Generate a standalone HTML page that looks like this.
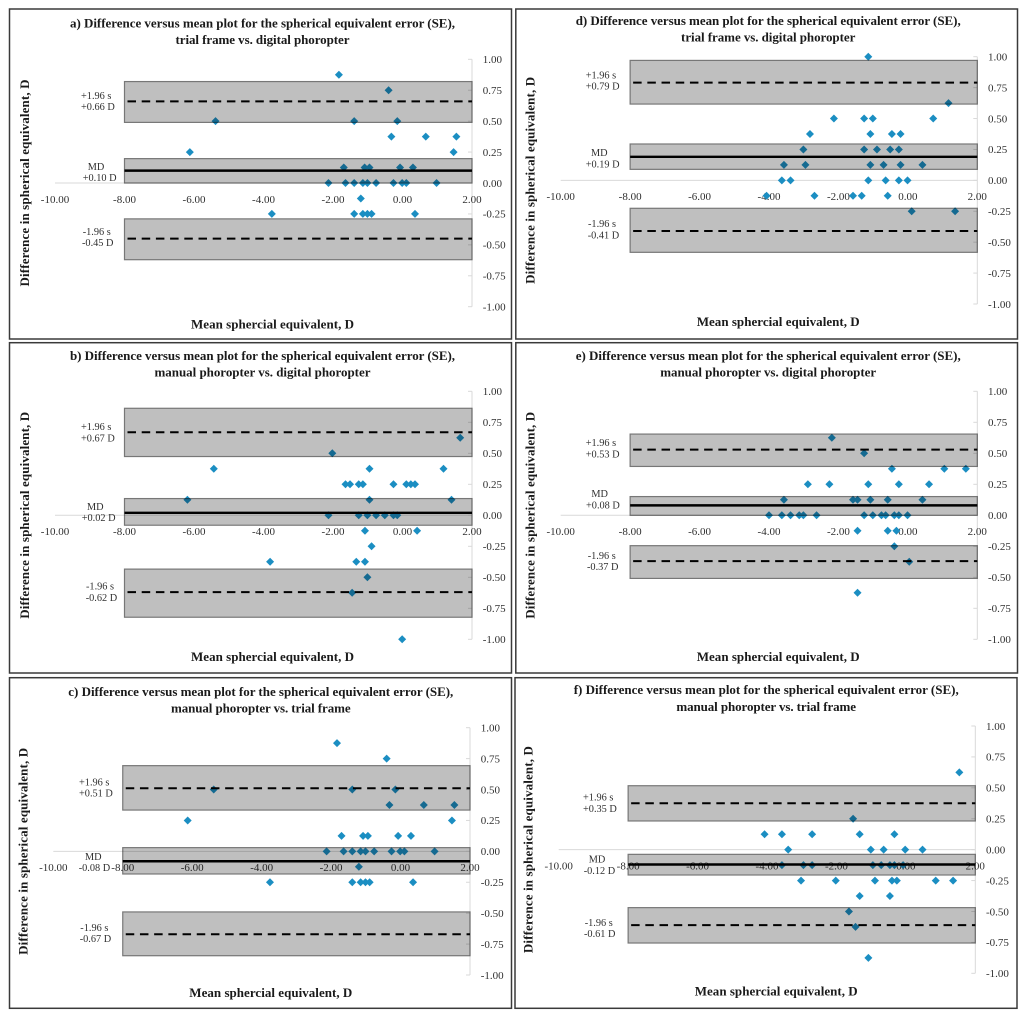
<!DOCTYPE html>
<html lang="en">
<head>
<meta charset="utf-8">
<title>Difference versus mean plots</title>
<style>
  html,body{margin:0;padding:0;background:#fff;}
  body{width:1024px;height:1015px;overflow:hidden;}
  svg{display:block;font-family:"Liberation Serif",serif;filter:blur(0.3px);}
</style>
</head>
<body>
<svg id="figure" xmlns="http://www.w3.org/2000/svg" width="1024" height="1015" viewBox="0 0 1024 1015"></svg>
<script>
// Shared axis tick values
const xTicks = [-10, -8, -6, -4, -2, 0, 2];
const yTicks = [1, 0.75, 0.5, 0.25, 0, -0.25, -0.5, -0.75, -1];

// Panel a
const aMean = [-1.83,-0.40,-5.38,-1.39,-0.15,-0.32,0.67,1.55,-6.12,1.47,-1.69,-1.09,-0.95,-0.07,0.30,-2.13,-1.64,-1.39,-1.14,-1.01,-0.76,-0.26,-0.01,0.11,0.98,-1.20,-3.76,-1.39,-1.14,-1.01,-0.89,0.36];
const aDiff = [0.875,0.75,0.5,0.5,0.5,0.375,0.375,0.375,0.25,0.25,0.125,0.125,0.125,0.125,0.125,0,0,0,0,0,0,0,0,0,0,-0.125,-0.25,-0.25,-0.25,-0.25,-0.25,-0.25];
const aLines = [0.66, 0.10, -0.45];
const aBands = [[0.82,0.49],[0.197,0],[-0.29,-0.62]];
const aLabels = ["+0.66 D", "+0.10 D", "-0.45 D"];

// Panel b
const bMean = [1.66,-2.02,-5.43,-0.95,1.18,-1.64,-1.51,-1.26,-1.14,-0.26,0.11,0.24,0.36,-6.19,-0.95,1.41,-2.13,-1.26,-1.01,-0.76,-0.51,-0.26,-0.15,-1.08,0.42,-0.89,-3.81,-1.33,-1.08,-1.01,-1.45,-0.01];
const bDiff = [0.625,0.5,0.375,0.375,0.375,0.25,0.25,0.25,0.25,0.25,0.25,0.25,0.25,0.125,0.125,0.125,0,0,0,0,0,0,0,-0.125,-0.125,-0.25,-0.375,-0.375,-0.375,-0.5,-0.625,-1];
const bLines = [0.67, 0.02, -0.62];
const bBands = [[0.863,0.474],[0.135,-0.08],[-0.434,-0.822]];
const bLabels = ["+0.67 D", "+0.02 D", "-0.62 D"];

// Panel c
const cMean = [-1.83,-0.40,-5.38,-1.39,-0.15,-0.32,0.67,1.55,-6.13,1.48,-1.70,-1.08,-0.94,-0.07,0.30,-2.13,-1.64,-1.39,-1.15,-1.01,-0.76,-0.26,-0.01,0.11,0.98,-1.20,-3.76,-1.39,-1.15,-1.01,-0.89,0.36];
const cDiff = [0.875,0.75,0.5,0.5,0.5,0.375,0.375,0.375,0.25,0.25,0.125,0.125,0.125,0.125,0.125,0,0,0,0,0,0,0,0,0,0,-0.125,-0.25,-0.25,-0.25,-0.25,-0.25,-0.25];
const cLines = [0.51, -0.08, -0.67];
const cBands = [[0.693,0.334],[0.03,-0.183],[-0.49,-0.844]];
const cLabels = ["+0.51 D", "-0.08 D", "-0.67 D"];

// Panel d
const dMean = [-1.14,1.17,-2.13,-1.26,-1.01,0.73,-2.82,-1.08,-0.46,-0.21,-3.01,-1.26,-0.89,-0.51,-0.26,-3.57,-2.95,-1.08,-0.70,-0.21,0.42,-3.63,-3.38,-1.14,-0.64,-0.26,-0.01,-4.07,-2.69,-1.58,-1.33,-0.58,0.11,1.36];
const dDiff = [1,0.625,0.5,0.5,0.5,0.5,0.375,0.375,0.375,0.375,0.25,0.25,0.25,0.25,0.25,0.125,0.125,0.125,0.125,0.125,0.125,0,0,0,0,0,0,-0.125,-0.125,-0.125,-0.125,-0.125,-0.25,-0.25];
const dLines = [0.79, 0.19, -0.41];
const dBands = [[0.97,0.617],[0.294,0.089],[-0.226,-0.582]];
const dLabels = ["+0.79 D", "+0.19 D", "-0.41 D"];

// Panel e
const eMean = [-2.19,-1.26,-0.46,1.05,1.67,-2.88,-2.26,-1.14,-0.26,0.61,-3.57,-1.58,-1.45,-1.08,-0.58,0.42,-4.0,-3.63,-3.38,-3.13,-3.01,-2.63,-1.26,-1.01,-0.76,-0.64,-0.39,-0.26,-0.01,-1.45,-0.58,-0.33,-0.39,0.04,-1.45];
const eDiff = [0.625,0.5,0.375,0.375,0.375,0.25,0.25,0.25,0.25,0.25,0.125,0.125,0.125,0.125,0.125,0.125,0,0,0,0,0,0,0,0,0,0,0,0,0,-0.125,-0.125,-0.125,-0.25,-0.375,-0.625];
const eLines = [0.53, 0.08, -0.37];
const eBands = [[0.655,0.394],[0.151,0],[-0.245,-0.509]];
const eLabels = ["+0.53 D", "+0.08 D", "-0.37 D"];

// Panel f
const fMean = [1.54,-1.52,-4.07,-3.57,-2.70,-1.33,-0.33,-3.39,-1.01,-0.64,-0.02,0.48,-3.57,-2.95,-2.70,-0.95,-0.71,-0.46,-0.33,-0.08,-3.02,-2.02,-0.89,-0.40,-0.26,0.86,1.36,-1.33,-0.46,-1.64,-1.45,-1.08];
const fDiff = [0.625,0.25,0.125,0.125,0.125,0.125,0.125,0,0,0,0,0,-0.125,-0.125,-0.125,-0.125,-0.125,-0.125,-0.125,-0.125,-0.25,-0.25,-0.25,-0.25,-0.25,-0.25,-0.25,-0.375,-0.375,-0.5,-0.625,-0.875];
const fLines = [0.375, -0.12, -0.61];
const fBands = [[0.517,0.232],[-0.038,-0.205],[-0.469,-0.755]];
const fLabels = ["+0.35 D", "-0.12 D", "-0.61 D"];

const NS = "http://www.w3.org/2000/svg";
const root = document.getElementById("figure");
const X_MIN = -10, X_MAX = 2, Y_MAX = 1, Y_MIN = -1, BAND_LEFT = -8;
const INK = "#303030";

function make(tag, attrs, parent, text) {
  const node = document.createElementNS(NS, tag);
  for (const k in attrs) node.setAttribute(k, attrs[k]);
  if (text !== undefined) node.textContent = text;
  parent.appendChild(node);
  return node;
}

function drawPanel(p) {
  const panel = make("g", {}, root);
  
  

  const sx = v => p.left + (v - X_MIN) * (p.right - p.left) / (X_MAX - X_MIN);
  const sy = v => p.top + (Y_MAX - v) * (p.bottom - p.top) / (Y_MAX - Y_MIN);

  const frame = make("rect", {x:p.frame[0], y:p.frame[1], width:p.frame[2]-p.frame[0], height:p.frame[3]-p.frame[1], fill:"#fff", stroke:"#3a3a3a", "stroke-width":1.5}, panel);
  
  

  const t1 = make("text", {x:p.left+207.5, y:sy(0)-159.7+4.2, "text-anchor":"middle", "font-size":13, "font-weight":"bold", fill:"#1a1a1a", textLength:385}, panel, p.id + ") Difference versus mean plot for the spherical equivalent error (SE),");
  
  

  const t2 = make("text", {x:p.left+207.5, y:sy(0)-143+4.2, "text-anchor":"middle", "font-size":13, "font-weight":"bold", fill:"#1a1a1a", textLength:p.subLen}, panel, p.sub);
  
  

  const yt = make("text", {transform:"translate(" + (p.left-30+4) + "," + sy(0) + ") rotate(-90)", "text-anchor":"middle", "font-size":13, "font-weight":"bold", fill:"#1a1a1a", textLength:207}, panel, "Difference in spherical equivalent, D");
  
  

  const xt = make("text", {x:p.left+217.5, y:sy(0)+141.4+4.2, "text-anchor":"middle", "font-size":13, "font-weight":"bold", fill:"#1a1a1a", textLength:163}, panel, "Mean sphercial equivalent, D");
  
  

  // Axes
  const xAxis = make("line", {x1:sx(X_MIN), x2:sx(X_MAX), y1:sy(0), y2:sy(0), stroke:"#d9d9d9", "stroke-width":1}, panel);
  
  

  const yAxis = make("line", {x1:sx(X_MAX), x2:sx(X_MAX), y1:sy(Y_MAX), y2:sy(Y_MIN), stroke:"#d9d9d9", "stroke-width":1}, panel);
  
  

  xTicks.forEach(v => {
    const lab = make("text", {x:sx(v), y:sy(0)+16+3.8, "text-anchor":"middle", "font-size":11, fill:INK}, panel, v.toFixed(2));
    
    
  });

  yTicks.forEach(v => {
    const tick = make("line", {x1:sx(X_MAX)-4, x2:sx(X_MAX), y1:sy(v), y2:sy(v), stroke:"#d9d9d9", "stroke-width":1}, panel);
    
    
    const lab = make("text", {x:sx(X_MAX)+10.7, y:sy(v)+3.8, "font-size":11, fill:INK}, panel, v.toFixed(2));
    
    
  });

  // Annotation labels
  const L = p.labelPos;
  const heads = ["+1.96 s", "MD", "-1.96 s"];
  heads.forEach((h, i) => {
    const a = make("text", {x:L[i][0], y:L[i][1]+3.5, "font-size":10.3, fill:INK, "text-anchor": i === 1 ? "middle" : "start"}, panel, h);
    
    
    const b = make("text", {x:L[i][2], y:L[i][3]+3.5, "font-size":10.3, fill:INK}, panel, p.labels[i]);
    
    
  });

  // Points
  p.mean.forEach((m, i) => {
    const cx = sx(m), cy = sy(p.diff[i]);
    const pt = make("polygon", {points:[[cx,cy-4],[cx+4,cy],[cx,cy+4],[cx-4,cy]].join(" "), fill:"#1b8ec2"}, panel);
    
    
  });

  // Confidence bands (multiplied over marks, as in the reference)
  p.bands.forEach(b => {
    const r = make("rect", {x:sx(BAND_LEFT), y:sy(b[0]), width:sx(X_MAX)-sx(BAND_LEFT), height:sy(b[1])-sy(b[0]), fill:"#bfbfbf", stroke:"#777", "stroke-width":1.2, style:"mix-blend-mode:multiply"}, panel);
    
    
  });

  // Mean and limit lines
  p.lines.forEach((v, i) => {
    const attrs = {x1:sx(BAND_LEFT)+ (i === 1 ? 0 : 3), x2:sx(X_MAX), y1:sy(v), y2:sy(v), stroke:"#000", "stroke-width": i === 1 ? 2.4 : 2};
    if (i !== 1) attrs["stroke-dasharray"] = "8.5 5.7";
    const ln = make("line", attrs, panel);
    
    
  });
}

const panels = [
  {id:"a", left:55, right:472, top:59.3, bottom:306.7, frame:[9.5,9,511.5,339], sub:"trial frame vs. digital phoropter", subLen:174, mean:aMean, diff:aDiff, lines:aLines, bands:aBands, labels:aLabels,
   labelPos:[[81,95.7,81,106.7],[96,166.3,82.7,177.7],[82.7,231.3,82,242.3]]},
  {id:"b", left:55, right:472, top:391.3, bottom:639.3, frame:[9.5,342.7,511.5,673], sub:"manual phoropter vs. digital phoropter", subLen:216, mean:bMean, diff:bDiff, lines:bLines, bands:bBands, labels:bLabels,
   labelPos:[[81,426.7,81,438],[95.3,506.3,81.7,517.7],[86,586,85.7,597.3]]},
  {id:"c", left:53.3, right:470, top:727.7, bottom:975, frame:[9.5,677.7,511.5,1008.3], sub:"manual phoropter vs. trial frame", subLen:179.7, mean:cMean, diff:cDiff, lines:cLines, bands:cBands, labels:cLabels,
   labelPos:[[79,782,79,793],[93.3,856.3,78.7,867.7],[80.3,927.7,79.7,938.7]]},
  {id:"d", left:560.7, right:977.3, top:56.7, bottom:304, frame:[515.8,9,1017.5,339], sub:"trial frame vs. digital phoropter", subLen:174.3, mean:dMean, diff:dDiff, lines:dLines, bands:dBands, labels:dLabels,
   labelPos:[[585.7,75,585.7,86],[599.3,152.7,585.7,164],[588,223.7,587.7,235]]},
  {id:"e", left:560.7, right:977.3, top:391.3, bottom:639.3, frame:[515.8,342.7,1017.5,673], sub:"manual phoropter vs. digital phoropter", subLen:216, mean:eMean, diff:eDiff, lines:eLines, bands:eBands, labels:eLabels,
   labelPos:[[585.7,442.7,585.7,454],[599.7,493.3,586,505],[587.7,555.3,587,566.3]]},
  {id:"f", left:558.7, right:975.3, top:726, bottom:973.3, frame:[515,677.7,1017,1008.3], sub:"manual phoropter vs. trial frame", subLen:179.7, mean:fMean, diff:fDiff, lines:fLines, bands:fBands, labels:fLabels,
   labelPos:[[583,797,583,808.3],[597,859,583.7,870.3],[584.7,922.3,584,933.7]]}
];

panels.forEach(drawPanel);
</script>
</body>
</html>
